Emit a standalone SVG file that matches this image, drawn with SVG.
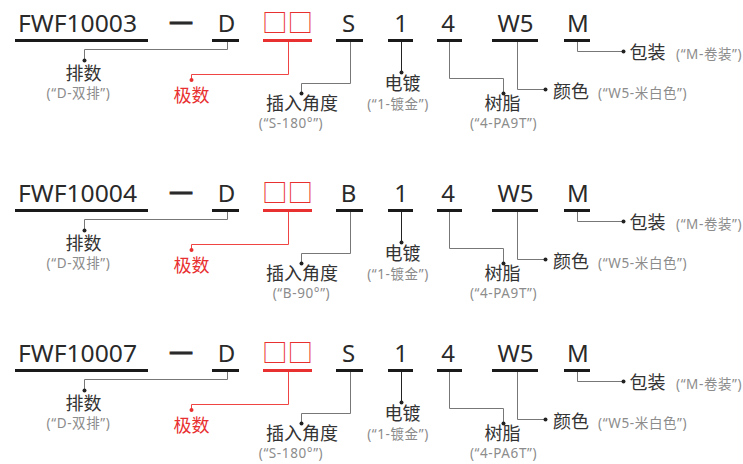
<svg xmlns="http://www.w3.org/2000/svg" width="743" height="464" viewBox="0 0 743 464">
<style>
.code{font-family:"Noto Sans","Noto Sans CJK SC",sans-serif;font-size:24px;fill:#2a2a2a}
.dash{stroke:#2a2a2a;stroke-width:0.9}
.box{font-family:"Noto Sans CJK SC",sans-serif;font-size:25.5px;fill:#e83030}
.lab{font-family:"Noto Sans","Noto Sans CJK SC",sans-serif;font-size:18px;fill:#333;text-anchor:middle}
.red{fill:#e83030}
.sub{font-family:"Noto Sans","Noto Sans CJK SC",sans-serif;font-size:13.5px;letter-spacing:0.6px;fill:#8c8c8c}
.mid{text-anchor:middle}
.ul{fill:#1a1a1a}
.ulr{fill:#e83030}
.ln{fill:none;stroke:#777;stroke-width:1}
.lnk{fill:none;stroke:#222;stroke-width:1}
.lnr{fill:none;stroke:#ee4444;stroke-width:1}
.dot{fill:#222}
.dotr{fill:#e83030}
</style>
<defs>
<g id="frame">
<rect class="ul" x="15" y="39" width="133" height="3"/>
<rect class="ul" x="212" y="39" width="27" height="3"/>
<rect class="ulr" x="263" y="39" width="49" height="3"/>
<rect class="ul" x="336" y="39" width="27" height="3"/>
<rect class="ul" x="388" y="39" width="25" height="3"/>
<rect class="ul" x="437" y="39" width="25" height="3"/>
<rect class="ul" x="492" y="39" width="46" height="3"/>
<rect class="ul" x="564" y="39" width="26" height="3"/>
</g>
<g id="wires">
<path class="ln" d="M227.5 42V49.5H84.5V60"/>
<path class="lnr" d="M288.5 42V74.5H191.5V80"/>
<path class="ln" d="M350.5 42V83.5H301.5V93"/>
<path class="lnk" d="M401.5 42V72"/>
<path class="ln" d="M449.5 42V78.5H503.5V93"/>
<path class="ln" d="M517.5 42V89.5H545"/>
<path class="ln" d="M577.5 42V51.5H623"/>
<circle class="dot" cx="84.5" cy="60.5" r="2"/>
<circle class="dotr" cx="191.5" cy="80" r="2"/>
<circle class="dot" cx="301.5" cy="93.5" r="2"/>
<circle class="dot" cx="401.5" cy="72.5" r="2"/>
<circle class="dot" cx="503.5" cy="93.5" r="2"/>
<circle class="dot" cx="545.5" cy="89.5" r="2"/>
<circle class="dot" cx="623.5" cy="51.5" r="2"/>
</g>
</defs>

<g id="connectors">
<use href="#wires"/>
<use href="#wires" y="170"/>
<use href="#wires" y="330"/>
<use href="#frame"/>
<use href="#frame" y="170"/>
<use href="#frame" y="330"/>
</g>

<g id="row1">
<g id="r1-code"><text class="code" x="18" y="32" textLength="119" lengthAdjust="spacingAndGlyphs">FWF10003</text></g>
<g id="r1-dash"><text class="code dash mid" x="181" y="32">一</text></g>
<g id="r1-d"><text class="code mid" x="226.5" y="32">D</text></g>
<g id="r1-box"><text class="box" x="262" y="32">□□</text></g>
<g id="r1-s"><text class="code mid" x="348.5" y="32">S</text></g>
<g id="r1-1"><text class="code mid" x="401" y="32">1</text></g>
<g id="r1-4"><text class="code mid" x="448" y="32">4</text></g>
<g id="r1-w5"><text class="code mid" x="515.5" y="32">W5</text></g>
<g id="r1-m"><text class="code mid" x="578" y="32">M</text></g>
<g id="r1-pai"><text class="lab" x="83.5" y="79.5">排数</text><text class="sub mid" x="78.5" y="98">(“D-双排”)</text></g>
<g id="r1-ji"><text class="lab red" x="191.5" y="102">极数</text></g>
<g id="r1-cha"><text class="lab" x="302" y="109.5">插入角度</text><text class="sub mid" x="291" y="128">(“S-180°”)</text></g>
<g id="r1-dian"><text class="lab" x="402.5" y="90">电镀</text><text class="sub mid" x="398" y="108.5">(“1-镀金”)</text></g>
<g id="r1-shu"><text class="lab" x="502.5" y="110">树脂</text><text class="sub mid" x="503.5" y="128">(“4-PA9T”)</text></g>
<g id="r1-yan"><text class="lab" x="571" y="98">颜色</text><text class="sub" x="598" y="98">(“W5-米白色”)</text></g>
<g id="r1-bao"><text class="lab" x="647.5" y="59">包装</text><text class="sub" x="676" y="59">(“M-卷装”)</text></g>
</g>

<g id="row2" transform="translate(0,170)">
<g id="r2-code"><text class="code" x="18" y="32" textLength="119" lengthAdjust="spacingAndGlyphs">FWF10004</text></g>
<g id="r2-dash"><text class="code dash mid" x="181" y="32">一</text></g>
<g id="r2-d"><text class="code mid" x="226.5" y="32">D</text></g>
<g id="r2-box"><text class="box" x="262" y="32">□□</text></g>
<g id="r2-b"><text class="code mid" x="348.5" y="32">B</text></g>
<g id="r2-1"><text class="code mid" x="401" y="32">1</text></g>
<g id="r2-4"><text class="code mid" x="448" y="32">4</text></g>
<g id="r2-w5"><text class="code mid" x="515.5" y="32">W5</text></g>
<g id="r2-m"><text class="code mid" x="578" y="32">M</text></g>
<g id="r2-pai"><text class="lab" x="83.5" y="79.5">排数</text><text class="sub mid" x="78.5" y="98">(“D-双排”)</text></g>
<g id="r2-ji"><text class="lab red" x="191.5" y="102">极数</text></g>
<g id="r2-cha"><text class="lab" x="302" y="109.5">插入角度</text><text class="sub mid" x="301.5" y="128">(“B-90°”)</text></g>
<g id="r2-dian"><text class="lab" x="402.5" y="90">电镀</text><text class="sub mid" x="398" y="108.5">(“1-镀金”)</text></g>
<g id="r2-shu"><text class="lab" x="502.5" y="110">树脂</text><text class="sub mid" x="503.5" y="128">(“4-PA9T”)</text></g>
<g id="r2-yan"><text class="lab" x="571" y="98">颜色</text><text class="sub" x="598" y="98">(“W5-米白色”)</text></g>
<g id="r2-bao"><text class="lab" x="647.5" y="59">包装</text><text class="sub" x="676" y="59">(“M-卷装”)</text></g>
</g>

<g id="row3" transform="translate(0,330)">
<g id="r3-code"><text class="code" x="18" y="32" textLength="119" lengthAdjust="spacingAndGlyphs">FWF10007</text></g>
<g id="r3-dash"><text class="code dash mid" x="181" y="32">一</text></g>
<g id="r3-d"><text class="code mid" x="226.5" y="32">D</text></g>
<g id="r3-box"><text class="box" x="262" y="32">□□</text></g>
<g id="r3-s"><text class="code mid" x="348.5" y="32">S</text></g>
<g id="r3-1"><text class="code mid" x="401" y="32">1</text></g>
<g id="r3-4"><text class="code mid" x="448" y="32">4</text></g>
<g id="r3-w5"><text class="code mid" x="515.5" y="32">W5</text></g>
<g id="r3-m"><text class="code mid" x="578" y="32">M</text></g>
<g id="r3-pai"><text class="lab" x="83.5" y="79.5">排数</text><text class="sub mid" x="78.5" y="98">(“D-双排”)</text></g>
<g id="r3-ji"><text class="lab red" x="191.5" y="102">极数</text></g>
<g id="r3-cha"><text class="lab" x="302" y="109.5">插入角度</text><text class="sub mid" x="291" y="128">(“S-180°”)</text></g>
<g id="r3-dian"><text class="lab" x="402.5" y="90">电镀</text><text class="sub mid" x="398" y="108.5">(“1-镀金”)</text></g>
<g id="r3-shu"><text class="lab" x="502.5" y="110">树脂</text><text class="sub mid" x="503.5" y="128">(“4-PA6T”)</text></g>
<g id="r3-yan"><text class="lab" x="571" y="98">颜色</text><text class="sub" x="598" y="98">(“W5-米白色”)</text></g>
<g id="r3-bao"><text class="lab" x="647.5" y="59">包装</text><text class="sub" x="676" y="59">(“M-卷装”)</text></g>
</g>
</svg>
